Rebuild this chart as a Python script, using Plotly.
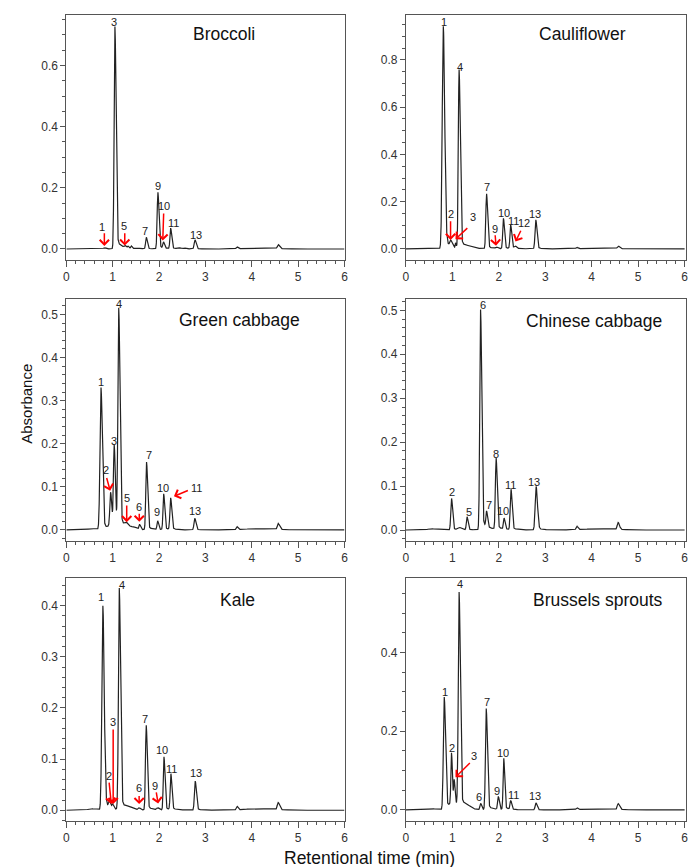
import numpy as np
import plotly.graph_objects as go

# ---------------- data ----------------
# peak tables: retention time (min), apex absorbance, gaussian width (min)
broccoli_rt = [0.55, 0.82, 1.048, 1.27, 1.33, 1.40, 1.60, 1.725, 1.975, 2.095, 2.25, 2.45, 2.55, 2.775, 3.68, 4.1, 4.57]
broccoli_h = [0.002, 0.004, 0.727, 0.006, 0.006, 0.008, 0.002, 0.038, 0.185, 0.020, 0.067, 0.003, 0.003, 0.030, 0.006, 0.003, 0.013]
broccoli_w = [0.08, 0.02, 0.017, 0.015, 0.012, 0.012, 0.03, 0.015, 0.016, 0.014, 0.015, 0.02, 0.02, 0.017, 0.016, 0.25, 0.02]

cauliflower_rt = [0.55, 0.805, 0.965, 1.07, 1.146, 1.35, 1.737, 1.95, 2.10, 2.256, 2.35, 2.797, 3.68, 4.1, 4.57]
cauliflower_h = [0.003, 0.943, 0.025, 0.020, 0.755, 0.006, 0.233, 0.006, 0.129, 0.100, 0.010, 0.123, 0.006, 0.002, 0.011]
cauliflower_w = [0.08, 0.022, 0.02, 0.008, 0.017, 0.08, 0.016, 0.02, 0.015, 0.015, 0.02, 0.017, 0.016, 0.25, 0.02]

green_rt = [0.55, 0.747, 0.954, 1.0, 1.032, 1.13, 1.30, 1.45, 1.58, 1.73, 1.97, 2.10, 2.25, 2.77, 3.68, 4.1, 4.57]
green_h = [0.003, 0.330, 0.075, 0.012, 0.183, 0.505, 0.010, 0.005, 0.012, 0.157, 0.020, 0.083, 0.073, 0.027, 0.007, 0.003, 0.014]
green_w = [0.08, 0.021, 0.016, 0.07, 0.016, 0.018, 0.04, 0.04, 0.015, 0.016, 0.014, 0.015, 0.016, 0.017, 0.016, 0.25, 0.02]

chinese_rt = [0.55, 0.983, 1.15, 1.317, 1.608, 1.737, 1.943, 2.114, 2.263, 2.804, 3.68, 4.1, 4.57]
chinese_h = [0.003, 0.072, 0.005, 0.030, 0.502, 0.035, 0.162, 0.025, 0.092, 0.099, 0.008, 0.003, 0.016]
chinese_w = [0.08, 0.016, 0.03, 0.015, 0.017, 0.014, 0.016, 0.014, 0.016, 0.02, 0.016, 0.25, 0.02]

kale_rt = [0.55, 0.787, 0.93, 1.0, 1.142, 1.35, 1.57, 1.723, 1.97, 2.106, 2.255, 2.78, 3.68, 4.1, 4.57]
kale_h = [0.003, 0.400, 0.012, 0.008, 0.433, 0.004, 0.004, 0.166, 0.004, 0.104, 0.070, 0.057, 0.007, 0.003, 0.014]
kale_w = [0.08, 0.021, 0.02, 0.015, 0.018, 0.06, 0.02, 0.016, 0.02, 0.015, 0.015, 0.017, 0.016, 0.25, 0.02]

brussels_rt = [0.55, 0.826, 0.982, 1.0, 1.04, 1.146, 1.30, 1.61, 1.73, 1.99, 2.107, 2.256, 2.80, 3.68, 4.1, 4.57]
brussels_h = [0.003, 0.286, 0.128, 0.014, 0.058, 0.545, 0.008, 0.016, 0.257, 0.033, 0.130, 0.022, 0.018, 0.005, 0.003, 0.015]
brussels_w = [0.08, 0.019, 0.013, 0.07, 0.012, 0.018, 0.06, 0.015, 0.017, 0.015, 0.014, 0.014, 0.017, 0.016, 0.25, 0.02]

# peak number labels: (text, time, absorbance)
broccoli_labels = [("1", 0.77, 0.072), ("3", 1.034, 0.743), ("5", 1.248, 0.075), ("7", 1.70, 0.059),
                   ("9", 1.974, 0.206), ("10", 2.115, 0.141), ("11", 2.31, 0.086), ("13", 2.79, 0.047)]
cauliflower_labels = [("1", 0.82, 0.959), ("4", 1.16, 0.772), ("2", 0.962, 0.148), ("3", 1.447, 0.134),
                      ("7", 1.745, 0.261), ("9", 1.91, 0.085), ("10", 2.11, 0.154), ("11", 2.32, 0.12),
                      ("12", 2.55, 0.109), ("13", 2.79, 0.148)]
green_labels = [("1", 0.74, 0.343), ("2", 0.861, 0.138), ("3", 1.025, 0.206), ("4", 1.13, 0.524),
                ("5", 1.302, 0.074), ("6", 1.573, 0.054), ("7", 1.79, 0.173), ("9", 1.965, 0.041),
                ("10", 2.086, 0.098), ("11", 2.797, 0.098), ("13", 2.78, 0.043)]
chinese_labels = [("2", 0.995, 0.086), ("5", 1.35, 0.042), ("6", 1.665, 0.512), ("7", 1.79, 0.057),
                  ("8", 1.95, 0.173), ("10", 2.09, 0.043), ("11", 2.255, 0.103), ("13", 2.76, 0.11)]
kale_labels = [("1", 0.737, 0.417), ("2", 0.915, 0.067), ("3", 1.0, 0.172), ("4", 1.19, 0.44),
               ("6", 1.57, 0.043), ("7", 1.70, 0.179), ("9", 1.91, 0.047), ("10", 2.06, 0.117),
               ("11", 2.26, 0.081), ("13", 2.79, 0.072)]
brussels_labels = [("1", 0.845, 0.30), ("2", 0.995, 0.157), ("3", 1.46, 0.136), ("4", 1.165, 0.573),
                   ("6", 1.58, 0.032), ("7", 1.745, 0.274), ("9", 1.97, 0.047), ("10", 2.09, 0.144),
                   ("11", 2.31, 0.038), ("13", 2.79, 0.035)]

# red arrows: (tip time, tip absorbance, tail time, tail absorbance)
broccoli_arrows = [(0.82, 0.010, 0.82, 0.056), (1.26, 0.011, 1.26, 0.056), (2.08, 0.028, 2.10, 0.121)]
cauliflower_arrows = [(0.962, 0.038, 0.962, 0.123), (1.068, 0.041, 1.355, 0.094),
                      (1.94, 0.013, 1.92, 0.064), (2.36, 0.031, 2.49, 0.083)]
green_arrows = [(0.946, 0.091, 0.861, 0.124), (1.302, 0.018, 1.302, 0.060),
                (1.573, 0.019, 1.573, 0.041), (2.321, 0.078, 2.654, 0.093)]
chinese_arrows = []
kale_arrows = [(0.97, 0.012, 0.92, 0.057), (1.01, 0.012, 1.01, 0.161),
               (1.57, 0.012, 1.57, 0.031), (1.98, 0.013, 1.935, 0.038)]
brussels_arrows = [(1.068, 0.083, 1.41, 0.123)]

titles = ["Broccoli", "Cauliflower", "Green cabbage", "Chinese cabbage", "Kale", "Brussels sprouts"]

# ---------------- rendering ----------------
t = np.arange(0, 6.0001, 0.002)
TAIL_FRAC = 0.05
TAIL_TAU = 0.12


def chromatogram(rt, h, w):
    y = np.zeros_like(t)
    for t0, a, s in zip(rt, h, w):
        d = t - t0
        left = np.exp(-0.5 * (d / s) ** 2)
        right = (1 - TAIL_FRAC) * np.exp(-0.5 * (d / (1.4 * s)) ** 2) + \
            TAIL_FRAC * np.exp(-np.clip(d, 0, None) / TAIL_TAU)
        y += a * np.where(d < 0, left, right)
    return y


W, H = 690, 867
left_dom = [64 / W, 345 / W]
right_dom = [407 / W, 1.0]
rows = [[1 - 260 / H, 1 - 15 / H], [1 - 541 / H, 1 - 298.5 / H], [1 - 821 / H, 1 - 578 / H]]

panels = [
    (broccoli_rt, broccoli_h, broccoli_w, broccoli_labels, broccoli_arrows, (-0.036, 0.765), 0.2, 0.05),
    (cauliflower_rt, cauliflower_h, cauliflower_w, cauliflower_labels, cauliflower_arrows, (-0.047, 0.99), 0.2, 0.05),
    (green_rt, green_h, green_w, green_labels, green_arrows, (-0.0256, 0.537), 0.1, 0.02),
    (chinese_rt, chinese_h, chinese_w, chinese_labels, chinese_arrows, (-0.025, 0.527), 0.1, 0.02),
    (kale_rt, kale_h, kale_w, kale_labels, kale_arrows, (-0.021, 0.454), 0.1, 0.02),
    (brussels_rt, brussels_h, brussels_w, brussels_labels, brussels_arrows, (-0.028, 0.589), 0.2, 0.05),
]
title_pos = [(223, 34), (585, 34), (239, 320), (597, 321), (237, 600), (601, 600)]

FONT = "Liberation Sans, Arial, sans-serif"
LINE = "#555"
fig = go.Figure()
layout = dict(width=W, height=H, margin=dict(l=0, r=0, t=0, b=0),
              paper_bgcolor="white", plot_bgcolor="white", showlegend=False)
annotations = []

for i, (rt, h, w, labels, arrows, yr, dt, mdt) in enumerate(panels, start=1):
    xa = "x" if i == 1 else f"x{i}"
    ya = "y" if i == 1 else f"y{i}"
    col = (i - 1) % 2
    row = (i - 1) // 2
    fig.add_trace(go.Scatter(x=t, y=chromatogram(rt, h, w), mode="lines",
                             line=dict(color="#222", width=1.2), xaxis=xa, yaxis=ya,
                             hoverinfo="skip", showlegend=False))
    layout["xaxis" if i == 1 else f"xaxis{i}"] = dict(
        domain=left_dom if col == 0 else right_dom,
        range=[0, 6] if col == 0 else [0, 6.03],
        anchor=ya, tick0=0, dtick=1, ticks="outside", ticklen=6, tickwidth=1, tickcolor=LINE,
        minor=dict(dtick=0.2, tick0=0, ticks="outside", ticklen=3, tickcolor=LINE),
        showline=True, linecolor=LINE, linewidth=1, mirror=True,
        showgrid=False, zeroline=False,
        tickfont=dict(family=FONT, size=12, color="#333"))
    layout["yaxis" if i == 1 else f"yaxis{i}"] = dict(
        domain=rows[row], range=list(yr), anchor=xa,
        tick0=0, dtick=dt, tickformat=".1f", ticks="outside", ticklen=5, tickwidth=1, tickcolor=LINE,
        minor=dict(dtick=mdt, tick0=0, ticks="outside", ticklen=3, tickcolor=LINE),
        showline=True, linecolor=LINE, linewidth=1, mirror=True,
        showgrid=False, zeroline=False,
        tickfont=dict(family=FONT, size=12, color="#333"))
    for txt, lx, ly in labels:
        annotations.append(dict(x=lx, y=ly, xref=xa, yref=ya, text=txt, showarrow=False,
                                xanchor="center", yanchor="middle",
                                font=dict(family=FONT, size=11, color="#222")))
    for tx, ty, sx, sy in arrows:
        annotations.append(dict(x=tx, y=ty, ax=sx, ay=sy, xref=xa, yref=ya, axref=xa, ayref=ya,
                                text="", showarrow=True, arrowhead=4, arrowsize=1.2, arrowwidth=1.5,
                                arrowcolor="red", standoff=0, startstandoff=0))
    px, py = title_pos[i - 1]
    annotations.append(dict(x=px / W, y=1 - py / H, xref="paper", yref="paper", text=titles[i - 1],
                            showarrow=False, xanchor="center", yanchor="middle",
                            font=dict(family=FONT, size=17.5, color="#111")))

annotations.append(dict(x=23 / W, y=1 - 404 / H, xref="paper", yref="paper", text="Absorbance",
                        textangle=-90, showarrow=False, xanchor="center", yanchor="middle",
                        font=dict(family=FONT, size=15, color="#111")))
annotations.append(dict(x=370 / W, y=1 - 858 / H, xref="paper", yref="paper",
                        text="Retentional time (min)", showarrow=False,
                        xanchor="center", yanchor="middle",
                        font=dict(family=FONT, size=17.5, color="#111")))
layout["annotations"] = annotations
fig.update_layout(**layout)
fig.write_html("out.html")
